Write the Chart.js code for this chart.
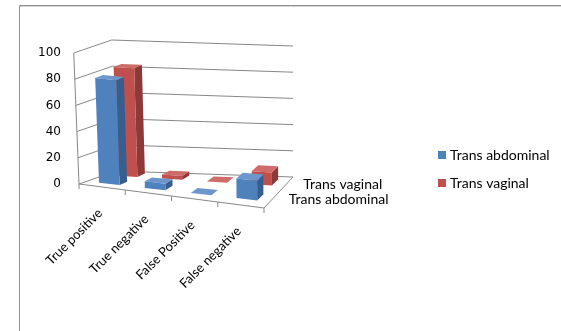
<!DOCTYPE html>
<html>
<head>
<meta charset="utf-8">
<script src="https://cdn.jsdelivr.net/npm/chart.js@4.4.1/dist/chart.umd.min.js"></script>
<style>
  html, body { margin: 0; padding: 0; background: #fff; overflow: hidden; }
  canvas { display: block; }
</style>
</head>
<body>
<canvas id="c" width="561" height="331"></canvas>
<script>
const categories = ['True positive', 'True negative', 'False Positive', 'False negative'];
const seriesNames = ['Trans abdominal', 'Trans vaginal'];
const transAbdominal = [80, 5, 0, 15];
const transVaginal = [83, 3, 0, 10];
const valueTicks = [0, 20, 40, 60, 80, 100];

// Floor corners of the 3D box: front-left, front-right, back-left, back-right.
const FL = { x: 79, y: 184 }, FR = { x: 264, y: 208 }, BL = { x: 116, y: 171 }, BR = { x: 293, y: 177 };
// Verticals tilt sideways a little (perspective), more the further left they stand.
const LEAN_PER_FULL = 0.025, LEAN_ORIGIN = 290;
// Depth slots (0 = front, 1 = back) for each series.
const ROWS = [[0.2, 0.41], [0.7, 0.91]];
const FACES = [
  { front: '#4F81BD', side: '#375E8F', top: '#6D97CC' },
  { front: '#C0504D', side: '#8C3937', top: '#CD6C69' }
];
const GRID = '#888888';
const CAT_FONT = '13px Lato';
const NAME_FONT = '14px Lato';

function floorPt(u, d) {
  return {
    x: FL.x + u * (FR.x - FL.x) + d * (BL.x - FL.x) + u * d * (FL.x - FR.x - BL.x + BR.x),
    y: FL.y + u * (FR.y - FL.y) + d * (BL.y - FL.y) + u * d * (FL.y - FR.y - BL.y + BR.y)
  };
}

function makeProj(chart) {
  const ys = chart.scales.y;
  const full = ys.getPixelForValue(0) - ys.getPixelForValue(100);
  return (u, d, h) => {
    const p = floorPt(u, d);
    const lean = (p.x - LEAN_ORIGIN) * LEAN_PER_FULL * h / full;
    return { x: p.x + lean, y: p.y - h };
  };
}

function poly(ctx, pts, fill) {
  ctx.beginPath();
  ctx.moveTo(pts[0].x, pts[0].y);
  for (let i = 1; i < pts.length; i++) ctx.lineTo(pts[i].x, pts[i].y);
  ctx.closePath();
  ctx.fillStyle = fill;
  ctx.fill();
}

function line(ctx, pts) {
  ctx.beginPath();
  ctx.moveTo(pts[0].x, pts[0].y);
  for (let i = 1; i < pts.length; i++) ctx.lineTo(pts[i].x, pts[i].y);
  ctx.stroke();
}

const box3d = {
  id: 'box3d',
  beforeDraw(chart) {
    const ctx = chart.ctx;
    ctx.save();
    ctx.fillStyle = '#fff';
    ctx.fillRect(0, 0, chart.width, chart.height);
    // chart frame
    ctx.strokeStyle = '#8f8f8f';
    ctx.lineWidth = 1;
    ctx.beginPath();
    ctx.moveTo(19.5, chart.height);
    ctx.lineTo(19.5, 5.5);
    ctx.lineTo(chart.width, 5.5);
    ctx.stroke();
    ctx.strokeStyle = '#d4d4d4';
    ctx.beginPath();
    ctx.moveTo(20, 6.5);
    ctx.lineTo(chart.width, 6.5);
    ctx.stroke();
    ctx.restore();
  },
  beforeDatasetsDraw() {
    return false;
  },
  afterDraw(chart) {
    const ctx = chart.ctx;
    const ys = chart.scales.y, xs = chart.scales.x;
    const area = chart.chartArea;
    const proj = makeProj(chart);
    const y0 = ys.getPixelForValue(0);
    const hOf = v => y0 - ys.getPixelForValue(v);

    ctx.save();
    ctx.lineWidth = 1;
    ctx.strokeStyle = GRID;

    // side and back walls
    valueTicks.forEach(v => {
      const h = hOf(v);
      line(ctx, [proj(0, 0, h), proj(0, 1, h), proj(1, 1, h)]);
    });
    // value axis
    line(ctx, [proj(0, 0, 0), proj(0, 0, hOf(100))]);
    // floor front and right edges
    line(ctx, [proj(0, 0, 0), proj(1, 0, 0), proj(1, 1, 0)]);
    // category tick marks
    for (let k = 0; k <= categories.length; k++) {
      const p = proj(k / categories.length, 0, 0);
      line(ctx, [p, { x: p.x, y: p.y + 5 }]);
    }

    // bars: back row first, then front row
    for (let s = chart.data.datasets.length - 1; s >= 0; s--) {
      const meta = chart.getDatasetMeta(s);
      const [d0, d1] = ROWS[s];
      const f = FACES[s];
      meta.data.forEach(bar => {
        const u0 = (bar.x - bar.width / 2 - area.left) / area.width;
        const u1 = (bar.x + bar.width / 2 - area.left) / area.width;
        const h = bar.base - bar.y;
        poly(ctx, [proj(u1, d0, 0), proj(u1, d1, 0), proj(u1, d1, h), proj(u1, d0, h)], f.side);
        poly(ctx, [proj(u0, d0, h), proj(u1, d0, h), proj(u1, d1, h), proj(u0, d1, h)], f.top);
        if (h > 0) poly(ctx, [proj(u0, d0, 0), proj(u1, d0, 0), proj(u1, d0, h), proj(u0, d0, h)], f.front);
      });
    }

    // category labels, slanted
    ctx.fillStyle = '#000';
    ctx.font = CAT_FONT;
    categories.forEach((c, i) => {
      const u = (xs.getPixelForValue(i) - area.left) / area.width;
      const p = proj(u, 0, 0);
      ctx.save();
      ctx.translate(p.x - 2, p.y + 24);
      ctx.rotate(-Math.PI / 4);
      ctx.textAlign = 'right';
      ctx.textBaseline = 'middle';
      ctx.fillText(c, 0, 0);
      ctx.restore();
    });

    // series names along the depth axis
    ctx.font = NAME_FONT;
    ctx.textAlign = 'left';
    ctx.textBaseline = 'middle';
    seriesNames.forEach((n, s) => {
      const p = proj(1, (ROWS[s][0] + ROWS[s][1]) / 2, 0);
      ctx.fillText(n, p.x + 16, p.y + 1);
    });

    // legend
    seriesNames.forEach((n, s) => {
      const cy = 155 + s * 28;
      ctx.fillStyle = FACES[s].front;
      ctx.fillRect(438, cy - 4, 8, 8);
      ctx.fillStyle = '#000';
      ctx.fillText(n, 450, cy);
    });
    ctx.restore();
  }
};

Chart.defaults.color = '#000';

new Chart(document.getElementById('c'), {
  type: 'bar',
  data: {
    labels: categories,
    datasets: [
      { label: seriesNames[0], data: transAbdominal, backgroundColor: FACES[0].front, grouped: false },
      { label: seriesNames[1], data: transVaginal, backgroundColor: FACES[1].front, grouped: false }
    ]
  },
  options: {
    responsive: false,
    devicePixelRatio: 1,
    animation: false,
    events: [],
    layout: { padding: { left: 0, top: 53, right: 297, bottom: 147 } },
    datasets: { bar: { categoryPercentage: 1, barPercentage: 0.45 } },
    plugins: { legend: { display: false }, tooltip: { enabled: false } },
    scales: {
      x: { type: 'category', display: false },
      y: {
        min: 0,
        max: 100,
        afterFit(scale) { scale.width = 79; },
        afterBuildTicks(scale) { scale.ticks = valueTicks.map(v => ({ value: v })); },
        grid: { display: false, drawTicks: false },
        border: { display: false },
        ticks: { padding: 18, font: { family: 'DejaVu Sans', size: 12 }, color: '#000' }
      }
    }
  },
  plugins: [box3d]
});
</script>
</body>
</html>
